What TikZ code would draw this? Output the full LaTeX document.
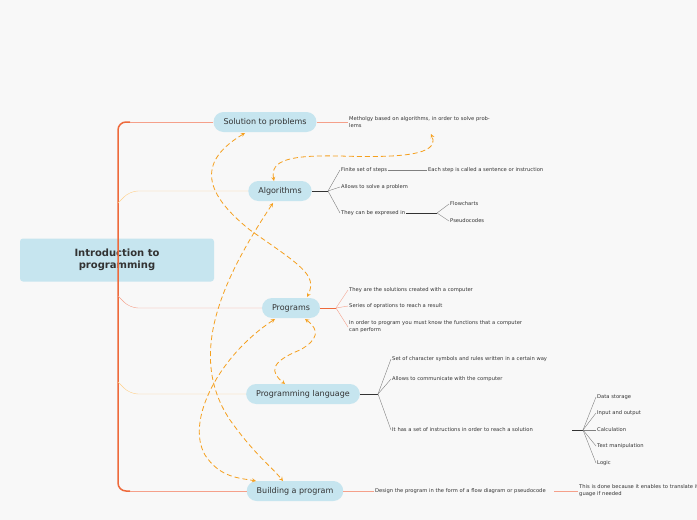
\documentclass[tikz,border=0pt]{standalone}
\usepackage{fontspec}
\setmainfont{DejaVu Sans}
\usetikzlibrary{positioning}
\definecolor{topicblue}{HTML}{C6E5EF}
\definecolor{trunk}{HTML}{EE6A3C}
\definecolor{salmon}{HTML}{F5A08A}
\definecolor{peach}{HTML}{FFD08A}
\definecolor{dashor}{HTML}{F5A01E}
\definecolor{inkgray}{HTML}{333333}

\begin{document}
\begin{tikzpicture}[x=1pt, y=-1pt,
  topic/.style={fill=topicblue, rounded corners=10pt, minimum height=20pt, text=inkgray, font=\fontsize{8}{9}\selectfont, inner xsep=10pt},
  leaf/.style={anchor=west, text=inkgray, font=\fontsize{5.2}{7}\selectfont, align=left, inner sep=1pt},
  link/.style={dashor, thick, dashed, dash pattern=on 5pt off 3pt, <->, >=stealth},
  twig/.style={gray, thin}]
\useasboundingbox[fill={rgb,255:red,248;green,248;blue,248}] (0,0) rectangle (697,520);

% central topic
\node[fill=topicblue, rounded corners=3pt, minimum width=194pt, minimum height=43pt, align=center, text=inkgray, font=\bfseries\fontsize{10}{12}\selectfont] (intro) at (117,260) {Introduction to\\programming};

% main topics
\node[topic] (solution) at (265,122) {Solution to problems};
\node[topic] (algo) at (280,191) {Algorithms};
\node[topic] (progs) at (291,308) {Programs};
\node[topic] (lang) at (303,394) {Programming language};
\node[topic] (build) at (295,491) {Building a program};

% trunk
\draw[trunk, line width=1.5pt, rounded corners=8pt] (130,122) -- (118,122) -- (118,491) -- (130,491);
\draw[salmon] (solution.west) -- (130,122);
\draw[peach, rounded corners=8pt] (algo.west) -- (130,191) -- (118,203);
\draw[salmon, rounded corners=8pt] (progs.west) -- (130,308) -- (118,296);
\draw[peach, rounded corners=8pt] (lang.west) -- (130,394) -- (118,382);
\draw[salmon] (build.west) -- (130,491);

% solution
\node[leaf, text width=150pt] (meth) at (348,122) {Metholgy based on algorithms, in order to solve problems};
\draw[salmon] (solution.east) -- (meth.west);

% algorithms
\coordinate (ka) at (328,191);
\node[leaf] (finite) at (340,170) {Finite set of steps};
\node[leaf] (allows) at (340,187) {Allows to solve a problem};
\node[leaf] (expr) at (340,213) {They can be expresed in};
\node[leaf] (each) at (427,170) {Each step is called a sentence or instruction};
\draw[inkgray, thick] (algo.east) -- (ka);
\foreach \t in {finite, allows, expr} \draw[twig] (ka) -- (\t.west);
\draw[twig] (finite.east) -- (each.west);
\coordinate (ke) at (437,213);
\node[leaf] (flow) at (449,204) {Flowcharts};
\node[leaf] (pseudo) at (449,221) {Pseudocodes};
\draw[inkgray] (expr.east) -- (ke);
\foreach \t in {flow, pseudo} \draw[twig] (ke) -- (\t.west);

% programs
\coordinate (kp) at (336,308);
\node[leaf] (sol) at (348,290) {They are the solutions created with a computer};
\node[leaf] (series) at (348,306) {Series of oprations to reach a result};
\node[leaf, text width=175pt] (order) at (348,327) {In order to program you must know the functions that a computer can perform};
\draw[trunk] (progs.east) -- (kp);
\foreach \t in {sol, series, order} \draw[salmon] (kp) -- (\t.west);

% programming language
\coordinate (kl) at (378,394);
\node[leaf, text width=165pt] (charset) at (391,359) {Set of character symbols and rules written in a certain way};
\node[leaf] (comm) at (391,379) {Allows to communicate with the computer};
\node[leaf, text width=160pt] (instr) at (391,430) {It has a set of instructions in order to reach a solution};
\draw[inkgray, thick] (lang.east) -- (kl);
\foreach \t in {charset, comm, instr} \draw[twig] (kl) -- (\t.west);
\coordinate (ki) at (572,430);
\coordinate (kj) at (583,430);
\node[leaf] (store) at (596,397) {Data storage};
\node[leaf] (io) at (596,413) {Input and output};
\node[leaf] (calc) at (596,430) {Calculation};
\node[leaf] (text) at (596,446) {Text manipulation};
\node[leaf] (logic) at (596,463) {Logic};
\draw[inkgray, thick] (ki) -- (kj);
\foreach \t in {store, io, calc, text, logic} \draw[twig] (kj) -- (\t.west);

% building
\node[leaf, text width=180pt] (design) at (374,491) {Design the program in the form of a flow diagram or pseudocode};
\node[leaf, text width=200pt] (done) at (578,491) {This is done because it enables to translate it to another programming language if needed};
\draw[salmon] (build.east) -- (design.west);
\draw[salmon] (554,491) -- (done.west);

% cross links
\draw[link] (245,133) .. controls (200,160) and (200,190) .. (250,230) .. controls (300,265) and (318,275) .. (307,297);
\draw[link] (274,181) .. controls (270,160) and (290,155) .. (340,156) .. controls (400,158) and (440,155) .. (431,134);
\draw[link] (273,203) .. controls (215,290) and (190,360) .. (230,420) .. controls (255,455) and (270,465) .. (283,481);
\draw[link] (275,319) .. controls (220,355) and (185,420) .. (205,455) .. controls (220,478) and (240,478) .. (256,481);
\draw[link] (305,319) .. controls (320,330) and (318,340) .. (300,350) .. controls (270,362) and (270,372) .. (285,384);
\end{tikzpicture}
\end{document}
